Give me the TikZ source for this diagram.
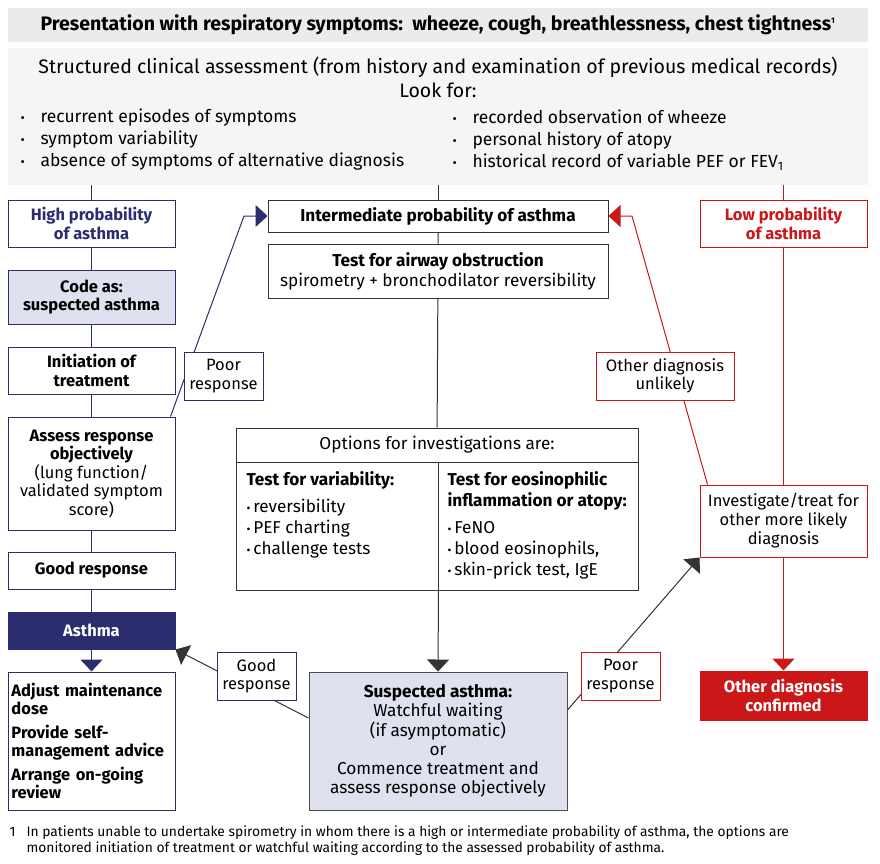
\documentclass[tikz,border=0pt]{standalone}
\usepackage{fontspec}
\setmainfont{Fira Sans}
\usetikzlibrary{positioning, calc, arrows.meta, backgrounds}
\definecolor{xnavy}{HTML}{2B2D6E}
\definecolor{xred}{HTML}{CC1719}
\definecolor{xlav}{HTML}{E0E1EE}
\definecolor{xgreyA}{HTML}{EBEBEB}
\definecolor{xgreyB}{HTML}{F4F5F4}
\newcommand{\boxfont}{\fontsize{16.5}{18.5}\selectfont}
\newcommand{\midfont}{\fontsize{17.2}{19.2}\selectfont}
\newcommand{\topfont}{\fontsize{17.5}{22}\selectfont}
\newcommand{\dotitem}{\makebox[20pt][l]{\fontsize{13}{13}\selectfont\textbullet}}
\newcommand{\smalldot}{{\fontsize{12}{12}\selectfont\textbullet}\,}
\tikzset{
	box/.style={draw, line width=1pt, align=center, inner sep=1pt, font=\boxfont, fill=white},
	navybox/.style={box, draw=xnavy, minimum width=167pt},
	redbox/.style={box, draw=xred, minimum width=167pt},
	greybox/.style={box, draw=black!80, font=\midfont},
	navyline/.style={draw=xnavy, line width=1pt},
	redline/.style={draw=xred, line width=1pt},
	blackline/.style={draw=black!80, line width=1pt},
	tip/.style={-{Triangle[width=22pt, length=12pt]}},
	navyarrow/.style={navyline, tip},
	redarrow/.style={redline, tip},
	blackarrow/.style={blackline, tip},
}
\begin{document}
\begin{tikzpicture}[x=1pt, y=-1pt]
	\useasboundingbox (0,0) rectangle (880,863);
	% top
	\node[fill=xgreyA, minimum width=860pt, minimum height=34pt, font=\fontsize{19.5}{22}\selectfont\bfseries] (present) at (438,25)
		{Presentation with respiratory symptoms:\ \ wheeze, cough, breathlessness, chest tightness\textsuperscript{\fontsize{8}{8}\selectfont 1}};
	\node[fill=xgreyB, minimum width=860pt, minimum height=137pt] (look) at (438,116.5) {};
	\node[font=\fontsize{19.5}{22}\selectfont] (lookT) at (438,67) {Structured clinical assessment (from history and examination of previous medical records)};
	\node[font=\fontsize{19.5}{22}\selectfont] (lookF) at (438,90) {Look for:};
	\node[font=\topfont, anchor=west, align=left] (lookL) at (17,140)
		{\dotitem recurrent episodes of symptoms\\ \dotitem symptom variability\\ \dotitem absence of symptoms of alternative diagnosis};
	\node[font=\topfont, anchor=west, align=left] (lookR) at (449,140)
		{\dotitem recorded observation of wheeze\\ \dotitem personal history of atopy\\ \dotitem historical record of variable PEF or FEV\textsubscript{1}};

	% high probability
	\node[navybox, minimum height=47pt, text=xnavy, font=\boxfont\bfseries] (high) at (91.5,223.5) {High probability\\of asthma};
	\node[navybox, minimum height=54pt, fill=xlav, font=\boxfont\bfseries] (code) at (91.5,297) {Code as:\\suspected asthma};
	\node[navybox, minimum height=47pt, font=\boxfont\bfseries] (init) at (91.5,370.5) {Initiation of\\treatment};
	\node[navybox, minimum height=113pt] (assess) at (91.5,473.5) {\textbf{Assess response}\\\textbf{objectively}\\(lung function/\\validated symptom\\score)};
	\node[navybox, minimum height=37pt, font=\boxfont\bfseries] (good) at (91.5,570.5) {Good response};
	\node[navybox, minimum height=37pt, fill=xnavy, text=white, font=\boxfont\bfseries] (asthma) at (91.5,630.5) {Asthma};
	\node[navybox, minimum height=138pt, text width=160pt, align=left, font=\boxfont\bfseries] (adjust) at (91.5,741)
		{Adjust maintenance\\dose\\[5pt]Provide self-\\management advice\\[5pt]Arrange on-going\\review};
	\node[box, draw=xnavy, minimum width=79pt, minimum height=48pt] (poorL) at (223.5,376) {Poor\\response};

	% intermediate probability
	\node[greybox, minimum width=340pt, minimum height=32pt, font=\midfont\bfseries] (inter) at (438,216) {Intermediate probability of asthma};
	\node[greybox, minimum width=340pt, minimum height=54pt, font=\fontsize{17.2}{20}\selectfont] (airway) at (438,271) {\textbf{Test for airway obstruction}\\spirometry + bronchodilator reversibility};
	\node[greybox, minimum width=402pt, minimum height=34pt] (optH) at (437,445) {Options for investigations are:};
	\node[greybox, minimum width=202pt, minimum height=128pt] (optL) at (337,526) {};
	\node[greybox, minimum width=200pt, minimum height=128pt] (optR) at (538,526) {};
	\node[anchor=north west, align=left, font=\fontsize{17.2}{21}\selectfont] (varT) at (243,468)
		{\textbf{Test for variability:}\\[6pt]\smalldot reversibility\\\smalldot PEF charting\\\smalldot challenge tests};
	\node[anchor=north west, align=left, font=\fontsize{17.2}{21}\selectfont] (eosT) at (444,468)
		{\textbf{Test for eosinophilic}\\\textbf{inflammation or atopy:}\\[6pt]\smalldot FeNO\\\smalldot blood eosinophils,\\\smalldot skin-prick test, IgE};
	\node[greybox, draw=black!70, fill=xlav, minimum width=258pt, minimum height=138pt] (susp) at (438,741)
		{\textbf{Suspected asthma:}\\Watchful waiting\\(if asymptomatic)\\or\\Commence treatment and\\assess response objectively};
	\node[box, draw=xnavy, minimum width=79pt, minimum height=48pt] (goodM) at (256.5,676) {Good\\response};
	\node[box, draw=xred, minimum width=79pt, minimum height=48pt] (poorM) at (620.5,676) {Poor\\response};

	% low probability
	\node[redbox, minimum height=47pt, text=xred, font=\boxfont\bfseries] (low) at (783.5,223.5) {Low probability\\of asthma};
	\node[redbox, minimum height=72pt, font=\fontsize{16.5}{19}\selectfont] (invest) at (783.5,521) {Investigate/treat for\\other more likely\\diagnosis};
	\node[redbox, minimum height=49pt, fill=xred, text=white, font=\boxfont\bfseries] (confirm) at (783.5,695.5) {Other diagnosis\\confirmed};
	\node[box, draw=xred, minimum width=138pt, minimum height=48pt] (unlikely) at (665,376) {Other diagnosis\\unlikely};

	% footnote
	\node[anchor=west, align=left, font=\fontsize{13.8}{16}\selectfont] (foot) at (6,841)
		{\makebox[17pt][l]{1}In patients unable to undertake spirometry in whom there is a high or intermediate probability of asthma, the options are\\\hspace*{17pt}monitored initiation of treatment or watchful waiting according to the assessed probability of asthma.};

	\coordinate (poorTurn) at (244,216);
	\coordinate (unlikelyTurn) at (632,216);
	\begin{scope}[on background layer]
		\draw[navyline] (look.south -| high) -- (high.north);
		\draw[blackline] (look.south -| inter) -- (inter.north);
		\draw[redline] (look.south -| low) -- (low.north);
		\draw[navyline] (high) -- (code) -- (init) -- (assess) -- (good) -- (asthma);
		\draw[navyarrow] (asthma.south) -- (adjust.north);
		\draw[navyarrow] ([xshift=-5pt]assess.north east) -- (poorTurn) -- (inter.west);
		\draw[blackline] (inter) -- (airway) -- (optH);
		\draw[blackarrow] (optL.south east) -- (susp.north);
		\draw[blackarrow] ([yshift=23pt]susp.west) -- (asthma.south east);
		\draw[blackarrow] ([yshift=31pt]susp.east) -- (invest.south west);
		\draw[redline] (low) -- (invest);
		\draw[redarrow] (invest.south) -- (confirm.north);
		\draw[redarrow] ([xshift=8pt]invest.north west) -- (unlikelyTurn) -- (inter.east);
	\end{scope}
\end{tikzpicture}
\end{document}
